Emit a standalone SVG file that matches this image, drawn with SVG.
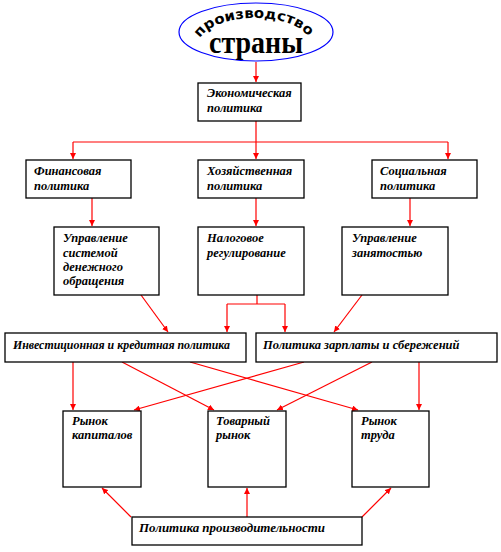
<svg xmlns="http://www.w3.org/2000/svg" width="501" height="552" viewBox="0 0 501 552">
<style>
.box{fill:#fff;stroke:#000;stroke-width:1.3}
.t{font-family:"Liberation Serif",serif;font-style:italic;font-weight:bold;font-size:12.5px;fill:#000}
.c{fill:none;stroke:#f00;stroke-width:1.2}
</style>
<defs>
<marker id="ah" viewBox="0 0 10 10" refX="10" refY="5" markerWidth="6" markerHeight="6" markerUnits="userSpaceOnUse" orient="auto">
<path d="M0,0 L10,5 L0,10 z" fill="#f00"/>
</marker>
<path id="arc" d="M199,40 C212,12 292,10 309,38"/>
</defs>
<rect width="501" height="552" fill="#fff"/>
<g id="title">
<ellipse cx="256" cy="32" rx="77" ry="29" fill="#fff" stroke="#00f" stroke-width="1.2"/>
<text font-family="DejaVu Sans,sans-serif" font-weight="bold" font-size="14" fill="#000"><textPath href="#arc" startOffset="2" textLength="119" lengthAdjust="spacingAndGlyphs">производство</textPath></text>
<text x="209" y="53" font-family="Liberation Serif,serif" font-weight="bold" font-size="32" textLength="94" lengthAdjust="spacingAndGlyphs" fill="#000">страны</text>
</g>
<g id="connectors">
<path class="c" d="M256,62 V82" marker-end="url(#ah)"/>
<path class="c" d="M256,121 V142 M73,142 H448"/>
<path class="c" d="M73,142 V159" marker-end="url(#ah)"/>
<path class="c" d="M256,142 V159" marker-end="url(#ah)"/>
<path class="c" d="M448,142 V159" marker-end="url(#ah)"/>
<path class="c" d="M92,198 V226" marker-end="url(#ah)"/>
<path class="c" d="M256,198 V226" marker-end="url(#ah)"/>
<path class="c" d="M410,198 V226" marker-end="url(#ah)"/>
<path class="c" d="M141,295 L168,332" marker-end="url(#ah)"/>
<path class="c" d="M257,295 V304 M227,304 H285"/>
<path class="c" d="M227,304 V332" marker-end="url(#ah)"/>
<path class="c" d="M285,304 V332" marker-end="url(#ah)"/>
<path class="c" d="M362,295 L334,332" marker-end="url(#ah)"/>
<path class="c" d="M73,362 V410" marker-end="url(#ah)"/>
<path class="c" d="M122,362 L214,410" marker-end="url(#ah)"/>
<path class="c" d="M190,362 L358,410" marker-end="url(#ah)"/>
<path class="c" d="M304,362 L134,410" marker-end="url(#ah)"/>
<path class="c" d="M372,362 L277,410" marker-end="url(#ah)"/>
<path class="c" d="M419,362 V410" marker-end="url(#ah)"/>
<path class="c" d="M131,517 L102,488" marker-end="url(#ah)"/>
<path class="c" d="M247,517 V488" marker-end="url(#ah)"/>
<path class="c" d="M362,517 L391,488" marker-end="url(#ah)"/>
</g>
<g id="econ"><rect class="box" x="198" y="83" width="103" height="38"/><text class="t" x="207" y="97">Экономическая</text><text class="t" x="207" y="112">политика</text></g>
<g id="fin"><rect class="box" x="26" y="160" width="105" height="38"/><text class="t" x="34" y="175">Финансовая</text><text class="t" x="34" y="190">политика</text></g>
<g id="hoz"><rect class="box" x="198" y="160" width="106" height="38"/><text class="t" x="207" y="175">Хозяйственная</text><text class="t" x="207" y="190">политика</text></g>
<g id="soc"><rect class="box" x="372" y="160" width="105" height="38"/><text class="t" x="380" y="175">Социальная</text><text class="t" x="380" y="190">политика</text></g>
<g id="money"><rect class="box" x="54" y="227" width="105" height="68"/><text class="t" x="63" y="242">Управление</text><text class="t" x="63" y="257">системой</text><text class="t" x="63" y="271">денежного</text><text class="t" x="63" y="285">обращения</text></g>
<g id="tax"><rect class="box" x="198" y="227" width="106" height="68"/><text class="t" x="207" y="242">Налоговое</text><text class="t" x="207" y="257">регулирование</text></g>
<g id="empl"><rect class="box" x="342" y="227" width="106" height="68"/><text class="t" x="352" y="242">Управление</text><text class="t" x="352" y="257">занятостью</text></g>
<g id="invest"><rect class="box" x="5" y="333" width="241" height="29"/><text class="t" x="13" y="349" textLength="217" lengthAdjust="spacingAndGlyphs">Инвестиционная и кредитная политика</text></g>
<g id="wage"><rect class="box" x="256" y="333" width="241" height="29"/><text class="t" x="263" y="349">Политика зарплаты и сбережений</text></g>
<g id="capital"><rect class="box" x="63" y="411" width="78" height="76"/><text class="t" x="72" y="425">Рынок</text><text class="t" x="72" y="439">капиталов</text></g>
<g id="goods"><rect class="box" x="208" y="411" width="78" height="76"/><text class="t" x="216" y="425">Товарный</text><text class="t" x="216" y="439">рынок</text></g>
<g id="labor"><rect class="box" x="352" y="411" width="77" height="76"/><text class="t" x="361" y="425">Рынок</text><text class="t" x="361" y="439">труда</text></g>
<g id="prod"><rect class="box" x="132" y="517" width="230" height="28"/><text class="t" x="139" y="532" textLength="186" lengthAdjust="spacingAndGlyphs">Политика производительности</text></g>
</svg>
